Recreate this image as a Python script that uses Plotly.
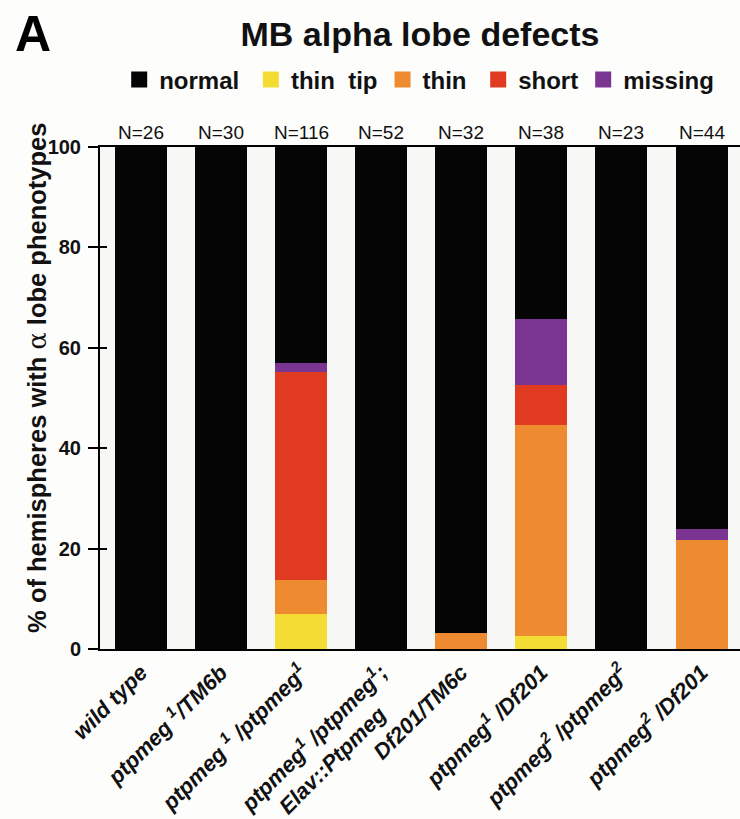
import plotly.graph_objects as go

# ---- data ----
categories = ["wild type", "ptpmeg1/TM6b", "ptpmeg1/ptpmeg1", "ptpmeg1/ptpmeg1;Elav::Ptpmeg",
              "Df201/TM6c", "ptpmeg1/Df201", "ptpmeg2/ptpmeg2", "ptpmeg2/Df201"]
tick_labels = ["wild type",
               "ptpmeg <sup>1</sup>/TM6b",
               "ptpmeg <sup>1</sup> /ptpmeg<sup>1</sup>",
               "ptpmeg<sup>1</sup> /ptpmeg<sup>1</sup>;<br>Elav::Ptpmeg\u00a0\u00a0\u00a0\u00a0\u00a0",
               "Df201/TM6c",
               "ptpmeg<sup>1</sup> /Df201",
               "ptpmeg<sup>2</sup> /ptpmeg<sup>2</sup>",
               "ptpmeg<sup>2</sup> /Df201"]
n_labels = ["N=26", "N=30", "N=116", "N=52", "N=32", "N=38", "N=23", "N=44"]

thin_tip = [0, 0, 6.9, 0, 0, 2.6, 0, 0]
thin = [0, 0, 6.9, 0, 3.1, 42.1, 0, 21.8]
short = [0, 0, 41.4, 0, 0, 7.9, 0, 0]
missing = [0, 0, 1.7, 0, 0, 13.2, 0, 2.2]
normal = [100, 100, 43.1, 100, 96.9, 34.2, 100, 76.0]

y_ticks = [0, 20, 40, 60, 80, 100]

# ---- style ----
FONT = "Liberation Sans, Arial, Helvetica, sans-serif"
colors = {"normal": "#050505", "thin tip": "#F3DD34", "thin": "#EE8A30",
          "short": "#E03A20", "missing": "#7A3592"}
legend_names = {"normal": "normal\u00a0", "thin tip": "thin\u00a0\u00a0tip",
                "thin": "thin\u00a0", "short": "short", "missing": "missing"}

fig = go.Figure()
stack = [("thin tip", thin_tip), ("thin", thin), ("short", short),
         ("missing", missing), ("normal", normal)]
for name, vals in stack:
    fig.add_trace(go.Bar(x=categories, y=vals, name=name,
                         marker=dict(color=colors[name], line=dict(width=0)),
                         showlegend=False))

# legend entries (order as in the reference legend)
for name in ["normal", "thin tip", "thin", "short", "missing"]:
    fig.add_trace(go.Scatter(x=[None], y=[None], mode="markers", name=legend_names[name],
                             marker=dict(symbol="square", size=20, color=colors[name]),
                             showlegend=True, hoverinfo="skip"))

# helper trace for the inner-tick axis
fig.add_trace(go.Scatter(x=[categories[0]], y=[None], yaxis="y2", mode="markers",
                         showlegend=False, hoverinfo="skip"))

for cat, lab in zip(categories, n_labels):
    fig.add_annotation(x=cat, y=100, xref="x", yref="y", text=lab, showarrow=False,
                       yanchor="bottom", yshift=2,
                       font=dict(family=FONT, size=19, color="#111"))

# panel letter
fig.add_annotation(x=-0.105, y=1.285, xref="paper", yref="paper", text="A",
                   showarrow=False, xanchor="center", yanchor="top",
                   font=dict(family=FONT, size=50, color="#000", weight="bold"))

# y-axis title
fig.add_annotation(x=-0.0985, y=0.54, xref="paper", yref="paper", textangle=-90,
                   text="% of hemispheres with <span style='font-family:DejaVu Serif;font-weight:normal'>α</span> lobe phenotypes",
                   showarrow=False, xanchor="center", yanchor="middle",
                   font=dict(family=FONT, size=25.5, color="#111", weight="bold"))

fig.update_layout(
    width=740, height=819,
    margin=dict(l=100, r=0, t=147, b=170, autoexpand=False),
    barmode="stack", bargap=0.35,
    paper_bgcolor="#fdfdfc", plot_bgcolor="#f7f7f5",
    font=dict(family=FONT, color="#111"),
    title=dict(text="MB alpha lobe defects", x=0.5, xref="paper", xanchor="center",
               y=1 - 34 / 819, yref="container", yanchor="middle",
               font=dict(family=FONT, size=34, color="#111", weight="bold")),
    legend=dict(orientation="h", x=0.03, xanchor="left", y=1.1335, yanchor="middle",
                font=dict(family=FONT, size=24, color="#111", weight="bold"),
                bgcolor="rgba(0,0,0,0)", itemwidth=30, traceorder="normal"),
    xaxis=dict(categoryorder="array", categoryarray=categories,
               tickvals=categories, ticktext=tick_labels, automargin=False,
               range=[-0.51, 7.48], showline=True, linecolor="#000", linewidth=2,
               mirror=True, ticks="", tickangle=-45,
               tickfont=dict(family=FONT, size=22, color="#111", weight="bold", style="italic"),
               showgrid=False, zeroline=False),
    yaxis=dict(range=[0, 100], tickvals=y_ticks, ticks="outside", ticklen=10,
               tickwidth=2, tickcolor="#000", showline=True, linecolor="#000", linewidth=2,
               tickfont=dict(family=FONT, size=20, color="#111", weight="bold"),
               ticklabelstandoff=3,
               showgrid=False, zeroline=False, automargin=False),
    yaxis2=dict(range=[0, 100], overlaying="y", side="left", tickvals=y_ticks,
                ticks="inside", ticklen=7, tickwidth=2, tickcolor="#000",
                showticklabels=False, showgrid=False, zeroline=False, showline=False),
)

fig.write_html("out.html")
